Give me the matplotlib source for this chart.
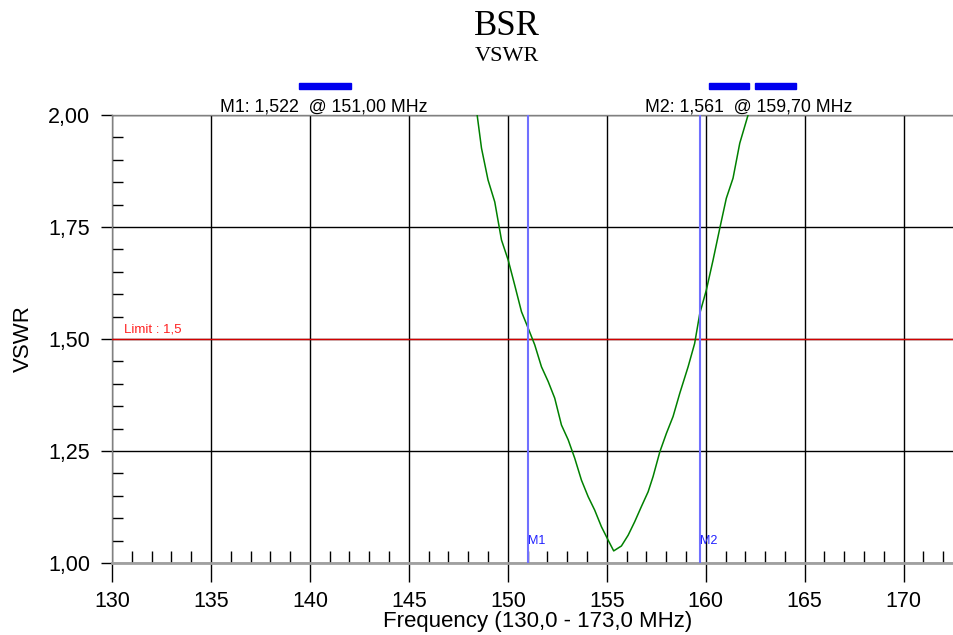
import numpy as np
import matplotlib
matplotlib.use('Agg')
import matplotlib.pyplot as plt
from matplotlib.patches import Rectangle
from matplotlib.ticker import FuncFormatter, MultipleLocator

plt.rcParams['font.family'] = ['Liberation Sans', 'DejaVu Sans']

freq = [148.2, 148.45, 148.67, 149.0, 149.34, 149.68, 150.02, 150.35, 150.69, 151.03,
        151.36, 151.70, 152.04, 152.37, 152.71, 153.05, 153.38, 153.72, 154.06, 154.39,
        154.73, 155.07, 155.35, 155.74, 156.08, 156.41, 156.75, 157.09, 157.34, 157.68,
        158.01, 158.35, 158.69, 159.11, 159.44, 159.70, 160.03, 160.37, 160.71, 161.04,
        161.38, 161.72, 162.14, 162.4]
vswr = [2.05, 2.00, 1.926, 1.855, 1.806, 1.721, 1.676, 1.62, 1.561, 1.524,
        1.487, 1.438, 1.405, 1.368, 1.308, 1.275, 1.234, 1.185, 1.148, 1.118,
        1.081, 1.051, 1.027, 1.038, 1.062, 1.092, 1.126, 1.159, 1.193, 1.248,
        1.289, 1.327, 1.379, 1.438, 1.49, 1.557, 1.609, 1.676, 1.747, 1.814,
        1.859, 1.937, 2.00, 2.06]

marker_names = ['M1', 'M2']
marker_freq = [151.00, 159.70]
marker_vswr = [1.522, 1.561]
limit = 1.5
f_start, f_stop = 130.0, 173.0

W, H = 954, 635
fig = plt.figure(figsize=(W / 100, H / 100), dpi=100)
# axes runs a little past the right edge, as in the reference
ax = fig.add_axes([112 / W, (H - 563) / H, (963 - 112) / W, 448 / H])

ax.set_xlim(f_start, f_stop)
ax.set_ylim(1.0, 2.0)

ax.grid(True, which='major', color='black', lw=1)
ax.set_axisbelow(True)

ax.axhline(limit, color='#d40000', lw=1, zorder=3)
ax.text(130.6, limit + 0.008, 'Limit : ' + str(limit).replace('.', ','),
        color='#ff2020', fontsize=9.5, va='bottom', ha='left')

ax.plot(freq, vswr, color='#008000', lw=1.1, zorder=4)

for name, f in zip(marker_names, marker_freq):
    ax.axvline(f, color='#7070ff', lw=1.5, zorder=5)
    ax.text(f, 1.035, name, color='#2020ff', fontsize=9, ha='left', va='bottom')

# ticks
ax.xaxis.set_major_locator(MultipleLocator(5))
ax.xaxis.set_minor_locator(MultipleLocator(1))
ax.yaxis.set_major_locator(MultipleLocator(0.25))
ax.yaxis.set_minor_locator(MultipleLocator(0.05))
ax.tick_params(axis='x', which='major', direction='out', length=13.5, width=1,
               pad=7, labelsize=15.5)
ax.tick_params(axis='x', which='minor', direction='in', length=8.5, width=1)
ax.tick_params(axis='y', which='major', direction='out', length=7.7, width=1,
               pad=8, labelsize=15.5)
ax.tick_params(axis='y', which='minor', direction='in', length=8, width=1)
ax.xaxis.set_major_formatter(FuncFormatter(lambda v, p: '%d' % v))
ax.yaxis.set_major_formatter(FuncFormatter(lambda v, p: ('%.2f' % v).replace('.', ',')))

for s in ['left', 'top']:
    ax.spines[s].set_color('#808080')
    ax.spines[s].set_linewidth(1)
ax.spines['bottom'].set_color('#a0a0a0')
ax.spines['bottom'].set_linewidth(2)
ax.spines['right'].set_visible(False)

ax.set_xlabel('Frequency (%s - %s MHz)' % (('%.1f' % f_start).replace('.', ','),
                                           ('%.1f' % f_stop).replace('.', ',')),
              fontsize=16, labelpad=-1)
ax.set_ylabel('VSWR', fontsize=16, labelpad=10)

# titles
fig.text(507 / W, 1 - 35 / H, 'BSR', family='Liberation Serif', fontsize=25,
         ha='center', va='baseline')
fig.text(507 / W, 1 - 61 / H, 'VSWR', family='Liberation Serif', fontsize=16,
         ha='center', va='baseline')

# marker readouts above the plot
label_x = [220, 645]
for name, f, v, lx in zip(marker_names, marker_freq, marker_vswr, label_x):
    txt = '%s: %s  @ %s MHz' % (name, ('%.3f' % v).replace('.', ','),
                                 ('%.2f' % f).replace('.', ','))
    fig.text(lx / W, 1 - 111 / H, txt, fontsize=12.8, ha='left', va='baseline')

# blue swatches above the readouts
bars = [(299, 351), (709, 749), (755, 796)]
for x0, x1 in bars:
    fig.add_artist(Rectangle((x0 / W, 1 - 89 / H), (x1 - x0) / W, 6 / H,
                             transform=fig.transFigure, color='#0000ee'))

fig.savefig('out.png', dpi=100)
